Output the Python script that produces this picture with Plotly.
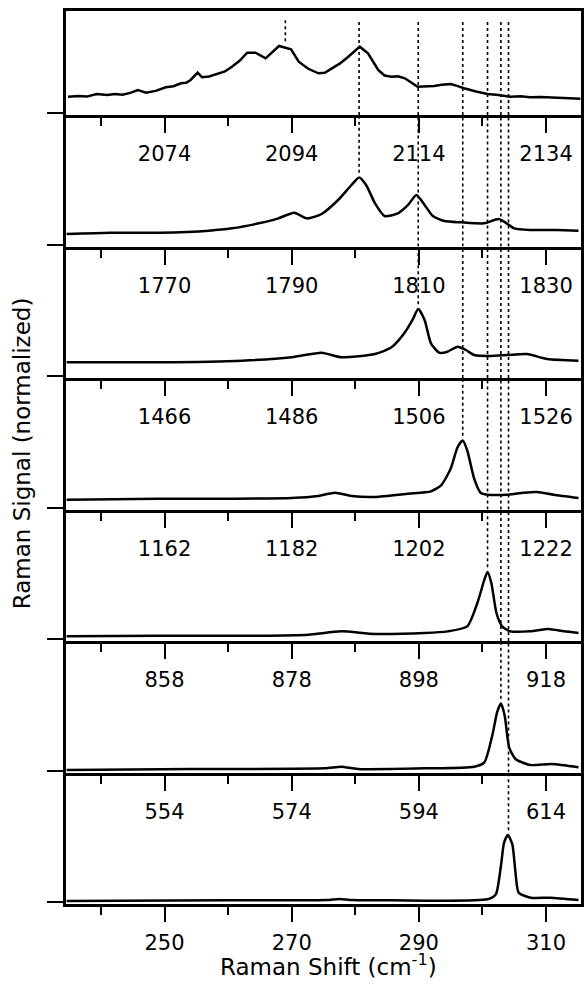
import plotly.graph_objects as go

# ---------------- data ----------------
offsets = [1824, 1520, 1216, 912, 608, 304, 0]          # x offset of each panel (top -> bottom)
base_ticks = [250, 270, 290, 310]                       # major ticks of the bottom panel
base_minor = [240, 260, 280, 300]
x_span = [234.5, 315.5]                                 # bottom-panel x range

s1_x = [2058.8, 2060.5, 2061.8, 2063.3, 2065.0, 2066.2, 2067.4, 2068.6, 2069.8, 2071.1, 2072.6,
        2074.2, 2075.4, 2076.6, 2077.4, 2078.1, 2079.2, 2079.9, 2081.0, 2082.3, 2083.5, 2084.6,
        2085.8, 2087.0, 2088.3, 2089.9, 2090.6, 2092.0, 2093.9, 2095.1, 2096.6, 2098.2, 2099.2,
        2100.3, 2101.6, 2102.9, 2104.7, 2106.0, 2107.6, 2108.6, 2109.7, 2110.7, 2111.8, 2113.8,
        2115.0, 2116.4, 2117.6, 2119.0, 2120.0, 2121.1, 2123.0, 2124.8, 2126.5, 2128.4, 2130.0,
        2131.5, 2133.2, 2135.2, 2137.2, 2139.4]
s1_y = [0.243, 0.252, 0.245, 0.284, 0.268, 0.282, 0.273, 0.300, 0.343, 0.303, 0.330,
        0.383, 0.400, 0.443, 0.452, 0.493, 0.602, 0.533, 0.545, 0.582, 0.620, 0.691,
        0.780, 0.900, 0.900, 0.816, 0.881, 1.000, 0.950, 0.766, 0.660, 0.592, 0.600,
        0.667, 0.740, 0.840, 0.990, 0.891, 0.642, 0.560, 0.542, 0.548, 0.518, 0.393,
        0.398, 0.403, 0.420, 0.433, 0.405, 0.369, 0.320, 0.284, 0.268, 0.243, 0.250,
        0.234, 0.240, 0.234, 0.226, 0.214]

s2_x = [1754.6, 1761.4, 1769.2, 1777.0, 1780.6, 1784.8, 1787.9, 1790.4, 1792.4, 1794.7, 1797.3,
        1799.4, 1800.6, 1801.7, 1803.1, 1804.6, 1806.7, 1808.3, 1809.6, 1810.9, 1812.2, 1814.0,
        1816.6, 1820.3, 1822.6, 1825.0, 1827.5, 1831.7, 1835.1]
s2_y = [0.157, 0.176, 0.176, 0.206, 0.241, 0.316, 0.390, 0.475, 0.390, 0.455, 0.664,
        0.888, 1.000, 0.888, 0.615, 0.425, 0.465, 0.590, 0.739, 0.590, 0.425, 0.351,
        0.331, 0.316, 0.380, 0.241, 0.216, 0.216, 0.206]

s3_x = [1450.6, 1465.2, 1478.2, 1486.0, 1490.7, 1493.8, 1499.1, 1501.7, 1503.7, 1505.0, 1505.9,
        1506.9, 1507.9, 1509.2, 1510.5, 1512.1, 1513.4, 1514.7, 1517.3, 1519.9, 1523.0, 1526.2,
        1531.1]
s3_y = [0.204, 0.204, 0.229, 0.279, 0.348, 0.279, 0.328, 0.428, 0.637, 0.836, 1.000,
        0.836, 0.488, 0.348, 0.363, 0.438, 0.388, 0.313, 0.299, 0.313, 0.328, 0.254,
        0.229]

s4_x = [1146.6, 1161.2, 1171.6, 1182.0, 1186.2, 1188.8, 1191.4, 1195.1, 1200.3, 1203.9, 1205.5,
        1207.0, 1208.1, 1208.9, 1209.6, 1210.7, 1211.7, 1212.8, 1215.9, 1218.5, 1220.6, 1223.2,
        1227.1]
s4_y = [0.116, 0.131, 0.131, 0.142, 0.172, 0.221, 0.172, 0.157, 0.206, 0.241, 0.331,
        0.579, 0.903, 1.000, 0.854, 0.430, 0.221, 0.191, 0.191, 0.221, 0.231, 0.191,
        0.142]

s5_x = [842.6, 857.2, 872.8, 880.6, 885.8, 891.1, 898.9, 902.5, 905.6, 907.2, 908.3,
        908.8, 909.4, 910.2, 911.1, 912.4, 915.5, 918.4, 920.8, 923.1]
s5_y = [0.040, 0.049, 0.049, 0.065, 0.114, 0.075, 0.090, 0.114, 0.189, 0.537, 0.885,
        1.000, 0.836, 0.388, 0.189, 0.114, 0.114, 0.149, 0.114, 0.090]

s6_x = [538.6, 558.4, 579.2, 581.8, 584.4, 594.9, 602.7, 604.3, 605.6, 606.3, 606.9,
        607.5, 608.2, 609.2, 611.5, 614.9, 619.1]
s6_y = [0.007, 0.022, 0.032, 0.057, 0.022, 0.032, 0.057, 0.122, 0.545, 0.869, 1.000,
        0.818, 0.346, 0.172, 0.082, 0.097, 0.048]

s7_x = [234.6, 259.6, 275.5, 277.5, 279.5, 285.7, 300.8, 302.1, 302.9, 303.4, 304.0,
        304.7, 305.2, 305.7, 307.6, 310.7, 315.1]
s7_y = [0.015, 0.025, 0.028, 0.045, 0.028, 0.025, 0.040, 0.114, 0.537, 0.885, 1.000,
        0.861, 0.437, 0.139, 0.065, 0.065, 0.030]

spectra_x = [s1_x, s2_x, s3_x, s4_x, s5_x, s6_x, s7_x]
spectra_y = [s1_y, s2_y, s3_y, s4_y, s5_y, s6_y, s7_y]

peaks = [2093.0, 1800.6, 1505.9, 1208.9, 908.8, 606.9, 304.1]   # marked peak positions

# ---------------- layout geometry ----------------
W, H = 585, 986
ML, MR, MT, MB = 66, 1, 11, 82
plot_h = H - MT - MB
n = len(offsets)
axis_px = [115 + 131.5 * i for i in range(n)]
top_px = [MT] + axis_px[:-1]
scale = 67.0          # px per normalized unit
zero_px = 2.0         # y=0 sits 2 px above the axis line
ymin = -zero_px / scale
ymax = [(axis_px[i] - top_px[i] - zero_px) / scale for i in range(n)]
line_top = (axis_px[0] - zero_px - 20) / scale

fnt = "DejaVu Sans"
fig = go.Figure()
layout = dict(
    width=W, height=H,
    margin=dict(l=ML, r=MR, t=MT, b=MB),
    plot_bgcolor="white", paper_bgcolor="white",
    showlegend=False,
    font=dict(family=fnt, size=21, color="black"),
)

shapes = []
for i in range(n):
    k = i + 1
    xa = "xaxis" if k == 1 else f"xaxis{k}"
    ya = "yaxis" if k == 1 else f"yaxis{k}"
    xr = "x" if k == 1 else f"x{k}"
    yr = "y" if k == 1 else f"y{k}"
    off = offsets[i]
    d0 = (H - MB - axis_px[i]) / plot_h
    d1 = (H - MB - top_px[i]) / plot_h
    layout[xa] = dict(
        domain=[0, 1], anchor=yr, range=[x_span[0] + off, x_span[1] + off],
        tickmode="array", tickvals=[t + off for t in base_ticks],
        ticktext=[str(t + off) for t in base_ticks],
        ticks="outside", ticklen=15, tickwidth=2, tickcolor="black",
        ticklabelstandoff=3,
        minor=dict(tickmode="array", tickvals=[t + off for t in base_minor],
                   ticks="outside", ticklen=8, tickwidth=2, tickcolor="black", showgrid=False),
        showline=True, linewidth=3, linecolor="black",
        mirror=(k == 1), showgrid=False, zeroline=False,
        tickfont=dict(family=fnt, size=21, color="black"),
    )
    layout[ya] = dict(
        domain=[max(d0, 0), min(d1, 1)], anchor=xr, range=[ymin, ymax[i]],
        tickmode="array", tickvals=[0], ticktext=[""], showticklabels=False,
        ticks="outside", ticklen=16, tickwidth=2, tickcolor="black",
        showline=True, linewidth=3, linecolor="black", mirror=True,
        showgrid=False, zeroline=False,
    )
    fig.add_trace(go.Scatter(
        x=spectra_x[i], y=spectra_y[i], xaxis=xr, yaxis=yr, mode="lines",
        line=dict(color="black", width=2.5,
                  shape="linear" if i == 0 else "spline",
                  smoothing=0.6),
        hoverinfo="skip",
    ))

# dotted peak markers, drawn panel by panel up to the top
for kp in range(n):
    for j in range(kp + 1):
        xr = "x" if j == 0 else f"x{j + 1}"
        yr = "y" if j == 0 else f"y{j + 1}"
        xv = peaks[kp] - offsets[kp] + offsets[j]
        y0 = 1.07 if j == kp else ymin
        y1 = line_top if j == 0 else ymax[j]
        shapes.append(dict(type="line", xref=xr, yref=yr, x0=xv, x1=xv, y0=y0, y1=y1,
                           line=dict(color="black", width=1.6, dash="dot"), layer="below"))

# white boxes behind tick labels (labels hide the dotted lines in the original)
for j in range(n - 1):
    xr = "x" if j == 0 else f"x{j + 1}"
    yr_below = f"y{j + 2} domain"
    h = axis_px[j + 1] - axis_px[j]
    for t in base_ticks:
        xv = t + offsets[j]
        shapes.append(dict(type="rect", xref=xr, yref=yr_below,
                           x0=xv - 4.2, x1=xv + 4.2,
                           y0=1 - 62 / h, y1=1 - 17 / h,
                           fillcolor="white", line=dict(width=0), layer="below"))

layout["shapes"] = shapes
layout["annotations"] = [
    dict(text="Raman Signal (normalized)", xref="paper", yref="paper",
         x=(22 - ML) / (W - ML - MR), y=0.505, xanchor="center", yanchor="middle",
         textangle=-90, showarrow=False, font=dict(family=fnt, size=23, color="black")),
    dict(text="Raman Shift (cm<sup>-1</sup>)", xref="paper", yref="paper",
         x=0.51, y=-(948 - (H - MB)) / plot_h, xanchor="center", yanchor="top",
         showarrow=False, font=dict(family=fnt, size=23, color="black")),
]
fig.update_layout(**layout)
fig.write_html("out.html",
               config={"displayModeBar": False},
               post_script="document.body.style.margin='0';document.body.style.overflow='hidden';")
